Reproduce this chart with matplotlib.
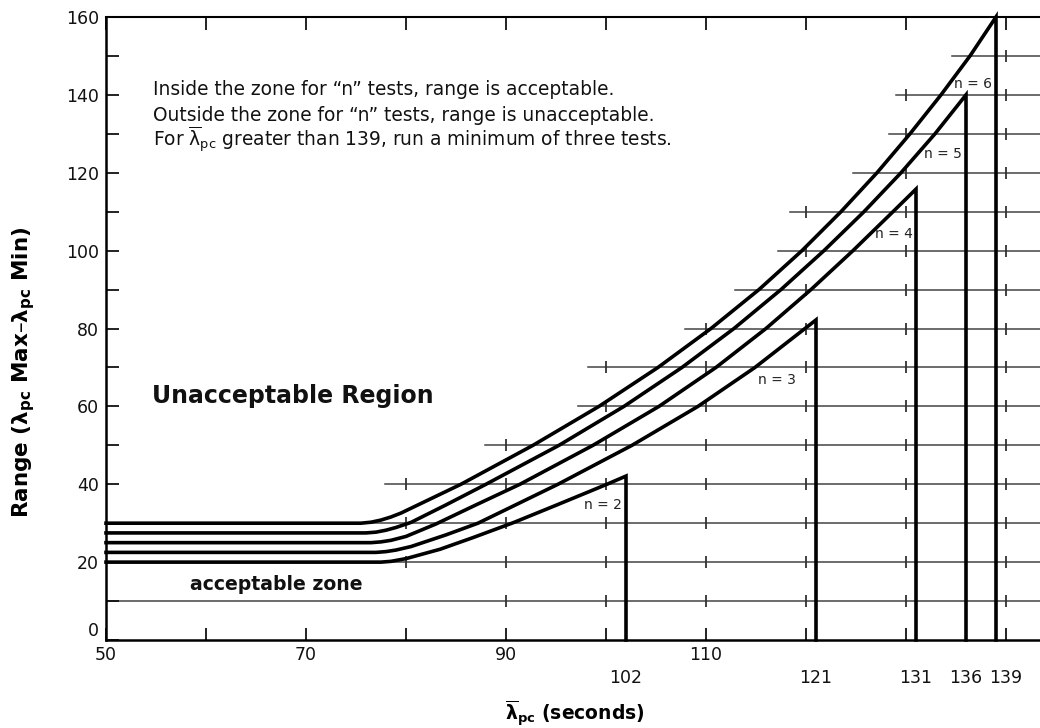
import matplotlib.pyplot as plt
import numpy as np

# boundary curves for n tests, (lambda_pc mean, range)
n2_x = [50, 77.5, 78.5, 80, 83.4, 86.7, 90.7, 95, 100.1, 102]
n2_y = [20, 20, 20.2, 20.9, 23.3, 26.3, 30.1, 34.6, 40, 42.1]

n3_x = [50, 77, 78, 79, 80.5, 84, 87.2, 95.2, 102.6, 109.2, 114.9, 119.9, 121]
n3_y = [22.5, 22.5, 22.7, 23.1, 24.0, 27.0, 30, 40, 50, 60, 70, 80, 82.2]

n4_x = [50, 76.5, 77.5, 78.5, 80, 83, 87, 91.4, 98.7, 105.3, 111.0, 116.0, 120.5, 124.7, 128.7, 131]
n4_y = [25, 25, 25.2, 25.6, 26.6, 29.8, 34.7, 40, 50, 60, 70, 80, 90, 100, 110, 115.8]

n5_x = [50, 76, 77, 78, 79, 80.5, 84, 88, 95.3, 101.8, 107.6, 112.8, 117.5, 121.8, 125.8, 129.5, 132.9, 136]
n5_y = [27.5, 27.5, 27.7, 28.2, 28.9, 30.2, 34.7, 40, 50, 60, 70, 80, 90, 100, 110, 120, 130, 140]

n6_x = [50, 75.5, 76.5, 77.5, 78.5, 79.5, 82.5, 85.5, 92.7, 99.3, 105.2, 110.5, 115.3, 119.6,
        123.5, 127.1, 130.4, 133.5, 136.4, 139]
n6_y = [30, 30, 30.25, 30.8, 31.6, 32.6, 36.3, 40, 50, 60, 70, 80, 90, 100,
        110, 120, 130, 140, 150, 160]

curves = [(n2_x, n2_y), (n3_x, n3_y), (n4_x, n4_y), (n5_x, n5_y), (n6_x, n6_y)]
cutoffs = [102, 121, 131, 136, 139]
cutoff_label_x = [102, 121, 131, 136, 140]

# label position for each "n = " tag
n_labels = ['n = 2', 'n = 3', 'n = 4', 'n = 5', 'n = 6']
n_label_x = [99.7, 117.1, 128.8, 133.65, 136.75]
n_label_y = [34.7, 66.8, 104.2, 124.8, 142.8]

# thin horizontal reading lines: level, where it starts, first tick
grid_levels = [10, 20, 30, 40, 50, 60, 70, 80, 90, 100, 110, 120, 130, 140, 150]
grid_starts = [50, 50, 50, 77.9, 87.9, 97.2, 98.2, 107.9, 112.9, 117.2, 118.4, 124.7, 128.3, 129.0, 134.6]
grid_tick_from = [90, 80, 80, 80, 90, 100, 100, 110, 120, 120, 120, 130, 130, 130, 140]

x_major = list(range(50, 141, 10))
x_major_labels = [50, 70, 90, 110]
y_major = list(range(0, 161, 10))
y_major_labels = list(range(0, 161, 20))

notes = ['Inside the zone for \u201cn\u201d tests, range is acceptable.',
         'Outside the zone for \u201cn\u201d tests, range is unacceptable.',
         r'For $\overline{\mathrm{\lambda}}_{\mathrm{pc}}$ greater than 139, run a minimum of three tests.']

fig = plt.figure(figsize=(10.4, 7.28), dpi=100)
ax = fig.add_axes([106/1040, 88/728, 934/1040, 623/728])
ax.set_xlim(50, 143.4)
ax.set_ylim(0, 160)

################################################################################
# reading lines with their little tick marks
for lvl, x0, t0 in zip(grid_levels, grid_starts, grid_tick_from):
    ax.plot([x0, 143.4], [lvl, lvl], color='#444444', lw=1.1, zorder=1)
    xt = np.arange(t0, 141, 10)
    ax.plot(xt, [lvl]*len(xt), ls='none', marker='|', ms=8, mew=1.3, color='#333333', zorder=1)

# boundary curves, each dropping straight down at its cutoff
for (cx, cy), c in zip(curves, cutoffs):
    ax.plot(list(cx) + [c], list(cy) + [0], color='black', lw=2.6,
            solid_joinstyle='miter', zorder=3, clip_on=False)

for lab, lx, ly in zip(n_labels, n_label_x, n_label_y):
    ax.text(lx, ly, lab, fontsize=10, color='#222222', ha='center', va='center', zorder=4)

################################################################################
# axes dressing
ax.set_xticks(x_major)
ax.set_xticklabels([str(v) if v in x_major_labels else '' for v in x_major])
ax.set_yticks(y_major)
ax.set_yticklabels([str(v) if v in y_major_labels else '' for v in y_major])
# lift the "0" a bit so it clears the "50"
ax.get_yticklabels()[0].set_verticalalignment('bottom')

ax.tick_params(which='major', direction='in', length=9, width=1.3, top=True,
               labelsize=12.5, colors='#111111')
ax.tick_params(axis='x', which='major', pad=4)
ax.tick_params(axis='y', which='major', pad=5)

# second row of x labels at the cutoffs
for c, lx in zip(cutoffs, cutoff_label_x):
    ax.text(lx, -9.76, str(c), fontsize=12.5, color='#111111', ha='center', va='center', clip_on=False)

ax.spines['right'].set_visible(False)
ax.spines['left'].set_linewidth(1.8)
ax.spines['bottom'].set_linewidth(1.8)
ax.spines['top'].set_linewidth(1.5)

for i, t in enumerate(notes):
    ax.text(54.7, 140.0 - 6.6*i, t, fontsize=13.4, color='#111111', va='baseline')

ax.text(54.6, 60.8, 'Unacceptable Region', fontsize=17, fontweight='bold',
        color='#111111', va='baseline')
ax.text(58.4, 12.8, 'acceptable zone', fontsize=13.6, fontweight='bold',
        color='#111111', va='baseline')

fig.text(575/1040, 1 - 714/728, r'$\mathbf{\overline{\lambda}_{pc}}$ (seconds)',
         fontsize=13.5, fontweight='bold', ha='center', va='center')
fig.text(24/1040, 1 - 372/728, 'Range (λ$_{\\mathbf{pc}}$ Max\u2013λ$_{\\mathbf{pc}}$ Min)',
         fontsize=15.5, fontweight='bold', rotation=90, ha='center', va='center')

fig.savefig('out.png', dpi=100)
